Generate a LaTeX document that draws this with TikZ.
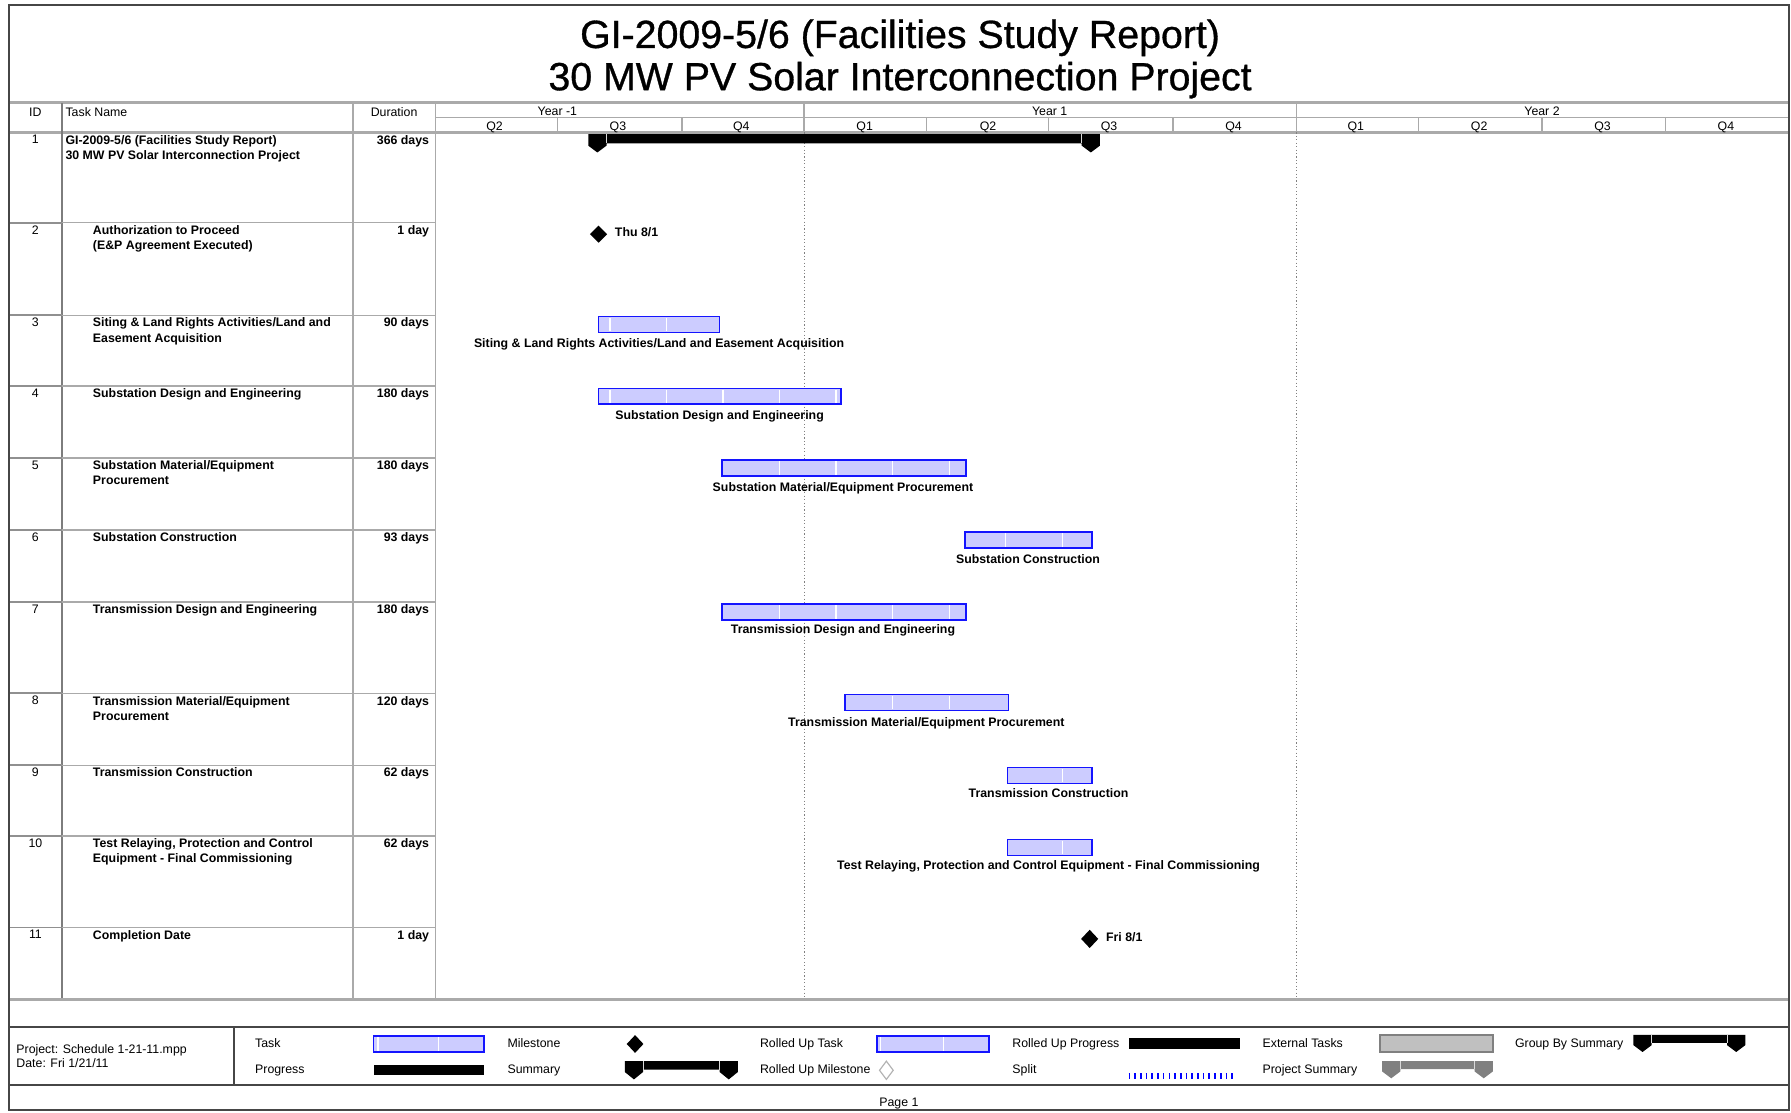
\documentclass[tikz,border=0pt]{standalone}
\usepackage{fontspec}
\setmainfont{Liberation Sans}
\newfontfamily\ttlfont[FakeBold=0.8]{Liberation Sans}
\definecolor{barfill}{RGB}{204,204,255}
\definecolor{barblue}{RGB}{20,20,255}
\definecolor{linegray}{RGB}{170,170,170}
\definecolor{darkline}{RGB}{70,70,70}
\definecolor{extgray}{RGB}{192,192,192}
\definecolor{projgray}{RGB}{128,128,128}
\newcommand\tfont{\fontsize{5.4}{6.6}\selectfont}
\newcommand\tbfont{\fontsize{5.4}{6.6}\selectfont\bfseries}
\newcommand\ganttbar[4]{%
  \fill[barfill] (#1,#3) rectangle (#2,#3+14);
  \foreach \g in {#4} {\draw[white, line width=0.6pt] (\g,#3+1) -- (\g,#3+13);}
  \draw[barblue, line width=0.75pt] (#1,#3) rectangle (#2,#3+14);}
% x1 x2 ytop barh caph point colour
\newcommand\gsum[7]{%
  \fill[#7] (#1,#3) -- (#2,#3) -- (#2,#3+#5) -- (#2-8,#3+#6) -- (#2-16,#3+#5)
    -- (#2-16,#3+#4) -- (#1+16,#3+#4) -- (#1+16,#3+#5) -- (#1+8,#3+#6) -- (#1,#3+#5) -- cycle;
  \draw[white!70!gray, line width=0.3pt] (#1+16,#3) -- (#1+16,#3+#4) (#2-16,#3) -- (#2-16,#3+#4);}
\newcommand\gdiam[4]{%
  \fill (#1,#2-#4) -- (#1+#3,#2) -- (#1,#2+#4) -- (#1-#3,#2) -- cycle;}
\tikzset{
  lbl/.style={inner sep=0pt, font=\tfont},
  blbl/.style={inner sep=0pt, font=\tbfont},
  cell/.style={inner sep=0pt, font=\tbfont, align=left, anchor=north west},
  idcell/.style={inner sep=0pt, font=\tfont, anchor=north},
  durcell/.style={inner sep=0pt, font=\tbfont, anchor=north east},
  thinline/.style={linegray, line width=0.6pt},
  thickline/.style={linegray, line width=1.2pt},
  yearline/.style={gray, line width=0.5pt, dash pattern=on 0.5pt off 1pt},
  ttl/.style={inner sep=0pt, font=\ttlfont\fontsize{17.2}{20}\selectfont, anchor=base},
}
\begin{document}
\begin{tikzpicture}[x=0.5pt,y=-0.5pt]
\useasboundingbox (0,0) rectangle (1568,974);
\fill[white] (0,0) rectangle (1568,974);

% ---------- title ----------
\node[ttl] (title1) at (788,42) {GI-2009-5/6 (Facilities Study Report)};
\node[ttl] (title2) at (788,79) {30 MW PV Solar Interconnection Project};

% ---------- grid ----------
\draw[thickline] (8,90) -- (1566,90);
\draw[thickline] (8,116) -- (1566,116);
\draw[thinline] (381,103) -- (1566,103);
\draw[darkline!70, line width=0.8pt] (54,90) -- (54,875);
\draw[thinline] (309,90) -- (309,875);
\draw[thinline] (381,90) -- (381,875);
\foreach \x in {704,1135} \draw[thinline] (\x,90) -- (\x,116);
\foreach \x in {488,597,811,918,1027,1242,1350,1458} \draw[thinline] (\x,103) -- (\x,116);
\foreach \x in {704,1135} \draw[yearline] (\x,116) -- (\x,875);
\foreach \y in {195,276,338,401,464,527,607,670,732,812} {
  \draw[thinline] (54,\y) -- (381,\y);
  \draw[darkline!60, line width=0.8pt] (8,\y) -- (54,\y);
}
\draw[thickline] (8,875) -- (1566,875);
\draw[darkline, line width=0.8pt] (8,899) -- (1566,899);
\draw[darkline, line width=0.8pt] (8,950) -- (1566,950);
\draw[darkline, line width=0.8pt] (205,899) -- (205,950);
\draw[darkline, line width=0.9pt] (8,4) rectangle (1566,972);

% ---------- header ----------
\node[lbl, anchor=base] (hid) at (31,102) {ID};
\node[lbl, anchor=base west] (hname) at (57,102) {Task Name};
\node[lbl, anchor=base] (hdur) at (345,102) {Duration};
\node[lbl, anchor=base] (y0) at (488,101) {Year -1};
\node[lbl, anchor=base] (y1) at (919,101) {Year 1};
\node[lbl, anchor=base] (y2) at (1350,101) {Year 2};
\foreach \x/\q [count=\i] in {433/Q2,541/Q3,649/Q4,757/Q1,865/Q2,971/Q3,1080/Q4,1187/Q1,1295/Q2,1403/Q3,1511/Q4}
  \node[lbl, anchor=base] (q\i) at (\x,114) {\q};

% ---------- table rows ----------
\node[idcell] (id1) at (31,118) {1};
\node[cell] (n1) at (57,118) {GI-2009-5/6 (Facilities Study Report)\\30 MW PV Solar Interconnection Project};
\node[durcell] (d1) at (376,118) {366 days};
\node[idcell] (id2) at (31,197) {2};
\node[cell] (n2) at (81,197) {Authorization to Proceed\\(E\&P Agreement Executed)};
\node[durcell] (d2) at (376,197) {1 day};
\node[idcell] (id3) at (31,278) {3};
\node[cell] (n3) at (81,278) {Siting \& Land Rights Activities/Land and\\Easement Acquisition};
\node[durcell] (d3) at (376,278) {90 days};
\node[idcell] (id4) at (31,340) {4};
\node[cell] (n4) at (81,340) {Substation Design and Engineering};
\node[durcell] (d4) at (376,340) {180 days};
\node[idcell] (id5) at (31,403) {5};
\node[cell] (n5) at (81,403) {Substation Material/Equipment\\Procurement};
\node[durcell] (d5) at (376,403) {180 days};
\node[idcell] (id6) at (31,466) {6};
\node[cell] (n6) at (81,466) {Substation Construction};
\node[durcell] (d6) at (376,466) {93 days};
\node[idcell] (id7) at (31,529) {7};
\node[cell] (n7) at (81,529) {Transmission Design and Engineering};
\node[durcell] (d7) at (376,529) {180 days};
\node[idcell] (id8) at (31,609) {8};
\node[cell] (n8) at (81,609) {Transmission Material/Equipment\\Procurement};
\node[durcell] (d8) at (376,609) {120 days};
\node[idcell] (id9) at (31,672) {9};
\node[cell] (n9) at (81,672) {Transmission Construction};
\node[durcell] (d9) at (376,672) {62 days};
\node[idcell] (id10) at (31,734) {10};
\node[cell] (n10) at (81,734) {Test Relaying, Protection and Control\\Equipment - Final Commissioning};
\node[durcell] (d10) at (376,734) {62 days};
\node[idcell] (id11) at (31,814) {11};
\node[cell] (n11) at (81,814) {Completion Date};
\node[durcell] (d11) at (376,814) {1 day};

% ---------- chart ----------
\gsum{515}{963}{117.5}{8}{10}{16}{black}
\gdiam{524}{205}{7.5}{7.5}
\node[blbl, anchor=base west] (m2) at (538,207) {Thu 8/1};
\ganttbar{524}{630}{277}{534,583.5}
\node[blbl, anchor=base] (b3) at (577,304) {Siting \& Land Rights Activities/Land and Easement Acquisition};
\ganttbar{524}{736}{340}{534,583.5,633,682.5,732}
\node[blbl, anchor=base] (b4) at (630,367) {Substation Design and Engineering};
\ganttbar{632}{846}{403}{682.5,732,781.5,831}
\node[blbl, anchor=base] (b5) at (738,430) {Substation Material/Equipment Procurement};
\ganttbar{845}{956}{466}{880.5,930}
\node[blbl, anchor=base] (b6) at (900,493) {Substation Construction};
\ganttbar{632}{846}{529}{682.5,732,781.5,831}
\node[blbl, anchor=base] (b7) at (738,555) {Transmission Design and Engineering};
\ganttbar{740}{883}{608}{781.5,831}
\node[blbl, anchor=base] (b8) at (811,636) {Transmission Material/Equipment Procurement};
\ganttbar{882}{956}{672}{930}
\node[blbl, anchor=base] (b9) at (918,698) {Transmission Construction};
\ganttbar{882}{956}{735}{930}
\node[blbl, anchor=base] (b10) at (918,761) {Test Relaying, Protection and Control Equipment - Final Commissioning};
\gdiam{954}{822}{7.5}{8}
\node[blbl, anchor=base west] (m11) at (968,824) {Fri 8/1};

% ---------- legend ----------
\node[lbl, anchor=base west] (proj) at (14,922) {Project: Schedule 1-21-11.mpp};
\node[lbl, anchor=base west] (date) at (14,935) {Date: Fri 1/21/11};
\node[lbl, anchor=base west] (lgtask) at (223,917) {Task};
\node[lbl, anchor=base west] (lgprog) at (223,940) {Progress};
\node[lbl, anchor=base west] (lgmile) at (444,917) {Milestone};
\node[lbl, anchor=base west] (lgsum) at (444,940) {Summary};
\node[lbl, anchor=base west] (lgrtask) at (665,917) {Rolled Up Task};
\node[lbl, anchor=base west] (lgrmile) at (665,940) {Rolled Up Milestone};
\node[lbl, anchor=base west] (lgrprog) at (886,917) {Rolled Up Progress};
\node[lbl, anchor=base west] (lgsplit) at (886,940) {Split};
\node[lbl, anchor=base west] (lgext) at (1105,917) {External Tasks};
\node[lbl, anchor=base west] (lgpsum) at (1105,940) {Project Summary};
\node[lbl, anchor=base west] (lggsum) at (1326,917) {Group By Summary};

\ganttbar{327}{424}{907}{331,384}
\fill[black] (327,932) rectangle (424,941);
\gdiam{556}{914}{7.3}{7.8}
\gsum{547}{646}{929}{7.5}{9.5}{16}{black}
\ganttbar{768}{866}{907}{771,826}
\draw[gray!60, line width=0.5pt] (776,929) -- (782,937) -- (776,945) -- (770,937) -- cycle;
\fill[black] (988,909) rectangle (1086,918);
\draw[blue, line width=2.5pt, dash pattern=on 0.7pt off 1.8pt] (988,942) -- (1082,942);
\filldraw[fill=extgray, draw=gray, line width=0.6pt] (1208,906) rectangle (1307,921);
\gsum{1210}{1307}{929}{7}{9}{15}{projgray}
\gsum{1430}{1528}{906}{7}{9}{15}{black}

\node[lbl, anchor=base] (page) at (787,969) {Page 1};
\end{tikzpicture}
\end{document}
